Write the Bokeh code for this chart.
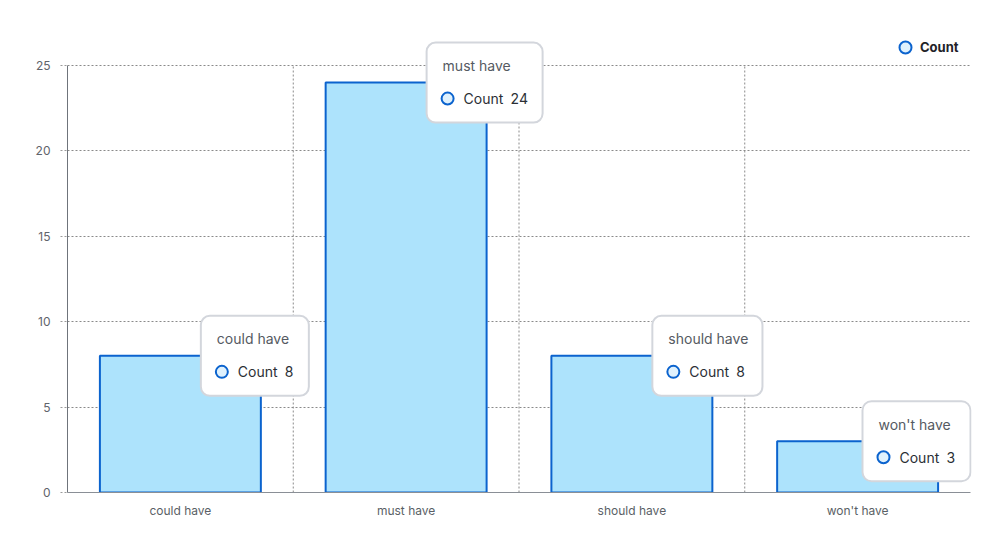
from bokeh.plotting import figure
from bokeh.models import (ColumnDataSource, Range1d, FixedTicker, Legend, LegendItem)
from bokeh.core.properties import value
from bokeh.embed import file_html
from bokeh.resources import INLINE

categories = ["could have", "must have", "should have", "won't have"]
counts = [8, 24, 8, 3]
series_name = "Count"
y_ticks = [0, 5, 10, 15, 20, 25]

W, H = 996, 553
YMAX = 25
n = len(categories)
# target plot box: x 67..970, y 65..492
PL, PR, PT, PB = 67, 970, 65, 492
px_x = (PR - PL) / n
px_y = (PB - PT) / YMAX
EXT = 1
# frame extended beyond the plot box so callouts/legend are not clipped
BL, BR, BT, BB = PL, W - (PR + EXT), 28, H - PB
y_top = YMAX + (PT - BT) / px_y
x_end = n + EXT / px_x
bar_w = 0.713

FONT = "Inter"
BLUE = "#0b63ce"
FILL = "#ade3fc"
GRID = "#8a8a8a"

p = figure(width=W, height=H, output_backend="svg", toolbar_location=None,
           x_range=Range1d(0, x_end), y_range=Range1d(0, y_top),
           min_border_left=BL, min_border_right=BR, min_border_top=BT, min_border_bottom=BB)
p.outline_line_color = None

xs = [i + 0.5 for i in range(n)]
src = ColumnDataSource(dict(x=xs, top=counts, cat=categories))

# grid
p.xgrid.visible = False
p.ygrid.ticker = FixedTicker(ticks=y_ticks)
p.ygrid.grid_line_color = GRID
p.ygrid.grid_line_dash = "2 2"
gx = list(range(1, n))
p.segment(x0=gx, y0=[0] * len(gx), x1=gx, y1=[YMAX] * len(gx),
          line_color=GRID, line_dash="2 2", line_width=1)

p.vbar(x="x", top="top", width=bar_w, source=src, fill_color=FILL, line_color=BLUE, line_width=2)

# axes
p.xaxis.bounds = (0, n)
p.xaxis.ticker = FixedTicker(ticks=xs)
p.xaxis.major_label_overrides = {x: c for x, c in zip(xs, categories)}
p.xaxis.major_tick_out = 0
p.xaxis.major_tick_in = 0
p.xaxis.minor_tick_line_color = None
p.xaxis.axis_line_color = "#8a8f96"
p.xaxis.major_label_text_font = FONT
p.xaxis.major_label_text_font_size = "12px"
p.xaxis.major_label_text_color = "#5a5f66"
p.xaxis.major_label_standoff = 10

p.yaxis.bounds = (0, YMAX)
p.yaxis.ticker = FixedTicker(ticks=y_ticks)
p.yaxis.minor_tick_line_color = None
p.yaxis.axis_line_color = "#6f747b"
p.yaxis.major_tick_out = 7
p.yaxis.major_tick_in = 0
p.yaxis.major_tick_line_color = "#9a9a9a"
p.yaxis.major_tick_line_dash = "2 2"
p.yaxis.major_label_text_font = FONT
p.yaxis.major_label_text_font_size = "12px"
p.yaxis.major_label_text_color = "#5f646b"
p.yaxis.major_label_standoff = 10

# callouts
tw = []
for c, v in zip(categories, counts):
    tw.append(max(32 + 7.1 * len(c), 100 + 8 * len(str(v))))
cx = []
for i, w in enumerate(tw):
    right = xs[i] + bar_w / 2
    left_px = right * px_x - 60
    left_px = min(left_px, (PR - PL) - w)
    cx.append((left_px + w / 2) / px_x)
tip = ColumnDataSource(dict(
    x=cx, y=counts, w=tw, cat=categories,
    lab=[series_name] * n, val=[str(v) for v in counts],
    title_off=[-w / 2 + 16 for w in tw],
    lab_off=[-w / 2 + 37 for w in tw],
    val_off=[-w / 2 + 37 + 47 for w in tw],
    mx=[c + (-w / 2 + 21) / px_x for c, w in zip(cx, tw)],
    my=[v - 16 / px_y for v in counts],
))
p.rect(x="x", y="y", width="w", height=80, width_units="screen", height_units="screen",
       source=tip, fill_color="white", line_color="#d3d6dc", line_width=2, border_radius=9)
p.text(x="x", y="y", text="cat", x_offset="title_off", y_offset=-17, source=tip,
       text_font=value(FONT), text_font_size="14px", text_color="#555a62",
       text_baseline="middle", text_align="left")
p.text(x="x", y="y", text="lab", x_offset="lab_off", y_offset=16, source=tip,
       text_font=value(FONT), text_font_size="14px", text_color="#2b2f35",
       text_baseline="middle", text_align="left")
p.text(x="x", y="y", text="val", x_offset="val_off", y_offset=16, source=tip,
       text_font=value(FONT), text_font_size="14px", text_color="#2b2f35",
       text_baseline="middle", text_align="left")
mk = p.scatter(x="mx", y="my", source=tip, marker="circle", size=12,
               fill_color="#dff1fd", line_color=BLUE, line_width=2)

legend = Legend(items=[LegendItem(label=series_name, renderers=[mk])],
                location=(823, PB - 62), orientation="horizontal",
                glyph_width=30, glyph_height=30, label_standoff=-3,
                padding=0, margin=0, border_line_color=None, background_fill_alpha=0,
                label_text_font=FONT, label_text_font_size="13px",
                label_text_font_style="bold", label_text_color="#1f2328")
p.add_layout(legend)

open("out.html", "w").write(file_html(p, INLINE))
